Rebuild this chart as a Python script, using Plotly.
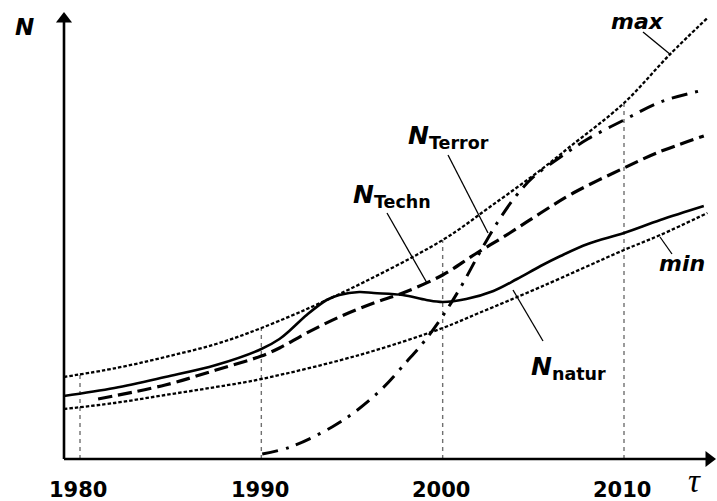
import numpy as np
import plotly.graph_objects as go

# ---------------- data ----------------
years_max = [1979.1, 1982.0, 1984.7, 1987.5, 1990.0, 1994.2, 2000.0, 2002.6, 2005.4, 2007.0, 2010.0, 2012.5, 2014.6]
n_max     = [82,     91,     102,    115,    131,    164,    219,    252,    289,    312,    356,    404,    441]

years_min = [1979.1, 1981.9, 1984.7, 1987.5, 1990.0, 1995.4, 2000.0, 2002.0, 2005.4, 2010.0, 2012.0, 2014.6]
n_min     = [50,     56,     64,     72,     80,     104,    131,    146,    172,    209,    224,    246]

years_natur = [1979.1, 1981.9, 1984.7, 1987.5, 1990.0, 1991.0, 1991.6, 1992.5, 1993.6, 1994.3, 1995.4, 1996.2,
               1997.8, 1999.1, 2000.0, 2001.3, 2002.8, 2004.1, 2005.4, 2006.5, 2008.0, 2010.0, 2012.0, 2014.4]
n_natur     = [63,     71,     82,     94,     110,    120,    129,    144,    159,    164,    167,    166,
               164,    159,    157,    160,    168,    180,    193,    203,    215,    226,    239,    253]

years_techn = [1981.0, 1984.7, 1987.5, 1990.0, 1991.0, 1992.5, 1994.3, 1996.2, 1997.8, 2000.0, 2001.8,
               2003.7, 2005.4, 2007.2, 2010.0, 2011.8, 2014.4]
n_techn     = [60,     74,     89,     103,    111,    126,    142,    156,    166,    184,    205,
               226,    246,    266,    291,    306,    323]

years_terror = [1990.05, 1991.6, 1993.9, 1995.3, 1996.7, 1998.0, 1999.0, 2000.0, 2001.0, 2002.0,
                2003.0, 2004.0, 2005.0, 2006.5, 2008.0, 2010.0, 2012.0, 2014.4]
n_terror     = [5,       12,     32,     49,     71,     97,     118,    143,    172,    205,
                236,    262,    282,    302,    320,    339,    357,    369]

tick_years = [1980, 1990, 2000, 2010]
tick_labels = ["1980", "1990", "2000", "2010"]

# ---------------- layout helpers (pixel -> data) ----------------
W, H = 717, 501
PX_PER_YEAR = (624 - 80) / 30.0
X_LEFT = 1980 - 80 / PX_PER_YEAR
X_RIGHT = 1980 + (W - 80) / PX_PER_YEAR
Y_BASE_PX = 459


def px2x(px):
    return X_LEFT + px / PX_PER_YEAR


def py2y(py):
    return Y_BASE_PX - py


FONT = "DejaVu Sans"
fig = go.Figure()

# vertical dashed guide lines from axis up to the max curve
for ty in tick_years:
    top = float(np.interp(ty, years_max, n_max))
    fig.add_trace(go.Scatter(x=[ty, ty], y=[0, top], mode="lines",
                             line=dict(color="#707070", width=1.4, dash="4px,4px"),
                             hoverinfo="skip"))

# curves
fig.add_trace(go.Scatter(x=years_max, y=n_max, mode="lines", line_shape="spline",
                         line=dict(color="black", width=2.3, dash="3.5px,2px"), name="max"))
fig.add_trace(go.Scatter(x=years_min, y=n_min, mode="lines", line_shape="spline",
                         line=dict(color="black", width=2.3, dash="3.5px,2px"), name="min"))
fig.add_trace(go.Scatter(x=years_techn, y=n_techn, mode="lines", line_shape="spline",
                         line=dict(color="black", width=3.2, dash="14px,6px"), name="N_Techn"))
fig.add_trace(go.Scatter(x=years_terror, y=n_terror, mode="lines", line_shape="spline",
                         line=dict(color="black", width=3, dash="16px,8px,3px,8px"), name="N_Terror"))
fig.add_trace(go.Scatter(x=years_natur, y=n_natur, mode="lines", line_shape="spline",
                         line=dict(color="black", width=2.6), name="N_natur"))

# axes with arrow heads
AX0 = px2x(64)
fig.add_trace(go.Scatter(x=[AX0, AX0], y=[0, py2y(20)], mode="lines",
                         line=dict(color="black", width=2.6), hoverinfo="skip"))
fig.add_trace(go.Scatter(x=[AX0], y=[py2y(19)], mode="markers",
                         marker=dict(symbol="triangle-up", size=14, color="black"), hoverinfo="skip"))
fig.add_trace(go.Scatter(x=[AX0, px2x(708)], y=[0, 0], mode="lines",
                         line=dict(color="black", width=2.6), hoverinfo="skip"))
fig.add_trace(go.Scatter(x=[px2x(709)], y=[0], mode="markers",
                         marker=dict(symbol="triangle-right", size=14, color="black"), hoverinfo="skip"))

annotations = []
# tick labels
for ty, lab in zip(tick_years, tick_labels):
    annotations.append(dict(x=ty - 0.1, y=py2y(490), text="<b>" + lab + "</b>", showarrow=False,
                            font=dict(family=FONT, size=21, color="black"),
                            xanchor="center", yanchor="middle"))

# axis titles
annotations.append(dict(x=px2x(694), y=py2y(501), text="<i>τ</i>", showarrow=False,
                        font=dict(family="Liberation Serif", size=33, color="black"),
                        xanchor="center", yanchor="bottom"))
annotations.append(dict(x=px2x(24), y=py2y(27), text="<b><i>N</i></b>", showarrow=False,
                        font=dict(family=FONT, size=23, color="black"),
                        xanchor="center", yanchor="middle"))

# curve labels
annotations.append(dict(x=px2x(637), y=py2y(21), text="<b><i>max</i></b>", showarrow=False,
                        font=dict(family=FONT, size=22, color="black"),
                        xanchor="center", yanchor="middle"))
annotations.append(dict(x=px2x(682), y=py2y(263), text="<b><i>min</i></b>", showarrow=False,
                        font=dict(family=FONT, size=22, color="black"),
                        xanchor="center", yanchor="middle"))
for txt, sub, lx, ly in [("N", "Terror", 406, 137), ("N", "Techn", 351, 196), ("N", "natur", 529, 368)]:
    annotations.append(dict(x=px2x(lx), y=py2y(ly),
                            text="<b><i>" + txt + "</i><sub>" + sub + "</sub></b>", showarrow=False,
                            font=dict(family=FONT, size=25, color="black"),
                            xanchor="left", yanchor="middle"))

shapes = []
for (x0, y0, x1, y1) in [(643, 32, 671, 55), (660, 237, 672, 254), (448, 155, 488, 233),
                         (387, 213, 427, 283), (513, 290, 543, 341)]:
    shapes.append(dict(type="line", xref="x", yref="y", x0=px2x(x0), y0=py2y(y0),
                       x1=px2x(x1), y1=py2y(y1), line=dict(color="black", width=1.3)))

fig.update_layout(
    width=W, height=H, margin=dict(l=0, r=0, t=0, b=0),
    paper_bgcolor="white", plot_bgcolor="white", showlegend=False,
    xaxis=dict(range=[X_LEFT, X_RIGHT], visible=False, fixedrange=True),
    yaxis=dict(range=[py2y(H), py2y(0)], visible=False, fixedrange=True),
    annotations=annotations, shapes=shapes,
)

fig.write_html("out.html", config={"displayModeBar": False, "staticPlot": True},
               post_script="document.body.style.margin='0px';")
